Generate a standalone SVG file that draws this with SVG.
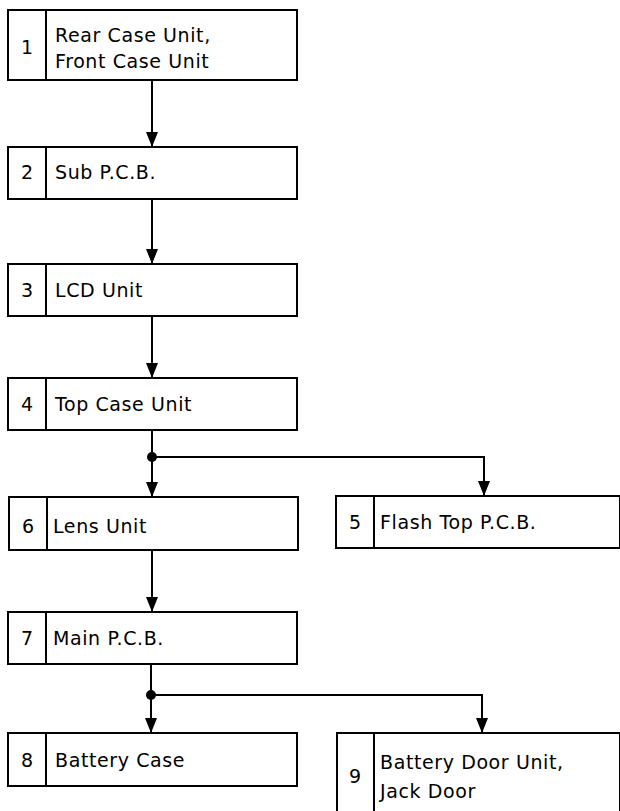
<svg xmlns="http://www.w3.org/2000/svg" width="620" height="811" viewBox="0 0 620 811">
<style>
.box{fill:#fff;stroke:#000;stroke-width:2}
.div{stroke:#000;stroke-width:2}
.t{font-family:"DejaVu Sans",sans-serif;font-size:19px;letter-spacing:0.6px;fill:#000}
.n{font-family:"DejaVu Sans",sans-serif;font-size:19px;fill:#000;text-anchor:middle}
.c{fill:none;stroke:#000;stroke-width:2}
</style>
<defs>
<marker id="ah" viewBox="0 0 15 12" refX="15" refY="6" markerWidth="15" markerHeight="12" markerUnits="userSpaceOnUse" orient="auto">
<path d="M0,0 L15,6 L0,12 Z" fill="#000"/>
</marker>
</defs>
<g id="connectors">
<path class="c" d="M152,80 V147" marker-end="url(#ah)"/>
<path class="c" d="M152,199 V264" marker-end="url(#ah)"/>
<path class="c" d="M152,316 V378" marker-end="url(#ah)"/>
<path class="c" d="M152,430 V497" marker-end="url(#ah)"/>
<path class="c" d="M152,457 H484 V496" marker-end="url(#ah)"/>
<circle cx="152" cy="457" r="5" fill="#000"/>
<path class="c" d="M152,550 V612" marker-end="url(#ah)"/>
<path class="c" d="M151,664 V733" marker-end="url(#ah)"/>
<path class="c" d="M151,695 H482 V733" marker-end="url(#ah)"/>
<circle cx="151" cy="695" r="5" fill="#000"/>
</g>
<g id="node1">
<rect class="box" x="8" y="10" width="289" height="70"/>
<line class="div" x1="46" y1="10" x2="46" y2="80"/>
<text class="n" x="27" y="54">1</text>
<text class="t" x="55" y="42">Rear Case Unit,</text>
<text class="t" x="55" y="68">Front Case Unit</text>
</g>
<g id="node2">
<rect class="box" x="8" y="147" width="289" height="52"/>
<line class="div" x1="46" y1="147" x2="46" y2="199"/>
<text class="n" x="27" y="179">2</text>
<text class="t" x="55" y="179">Sub P.C.B.</text>
</g>
<g id="node3">
<rect class="box" x="8" y="264" width="289" height="52"/>
<line class="div" x1="46" y1="264" x2="46" y2="316"/>
<text class="n" x="27" y="297">3</text>
<text class="t" x="55" y="297">LCD Unit</text>
</g>
<g id="node4">
<rect class="box" x="8" y="378" width="289" height="52"/>
<line class="div" x1="46" y1="378" x2="46" y2="430"/>
<text class="n" x="27" y="411">4</text>
<text class="t" x="55" y="411">Top Case Unit</text>
</g>
<g id="node6">
<rect class="box" x="9" y="497" width="289" height="53"/>
<line class="div" x1="47" y1="497" x2="47" y2="550"/>
<text class="n" x="28" y="533">6</text>
<text class="t" x="53" y="533">Lens Unit</text>
</g>
<g id="node5">
<rect class="box" x="336" y="496" width="284" height="52"/>
<line class="div" x1="374" y1="496" x2="374" y2="548"/>
<text class="n" x="355" y="529">5</text>
<text class="t" x="380" y="529">Flash Top P.C.B.</text>
</g>
<g id="node7">
<rect class="box" x="8" y="612" width="289" height="52"/>
<line class="div" x1="46" y1="612" x2="46" y2="664"/>
<text class="n" x="27" y="645">7</text>
<text class="t" x="53" y="645">Main P.C.B.</text>
</g>
<g id="node8">
<rect class="box" x="8" y="733" width="289" height="53"/>
<line class="div" x1="46" y1="733" x2="46" y2="786"/>
<text class="n" x="27" y="767">8</text>
<text class="t" x="55" y="767">Battery Case</text>
</g>
<g id="node9">
<rect class="box" x="337" y="733" width="283" height="82"/>
<line class="div" x1="374" y1="733" x2="374" y2="815"/>
<text class="n" x="355" y="783">9</text>
<text class="t" x="380" y="769">Battery Door Unit,</text>
<text class="t" x="380" y="798">Jack Door</text>
</g>
</svg>
